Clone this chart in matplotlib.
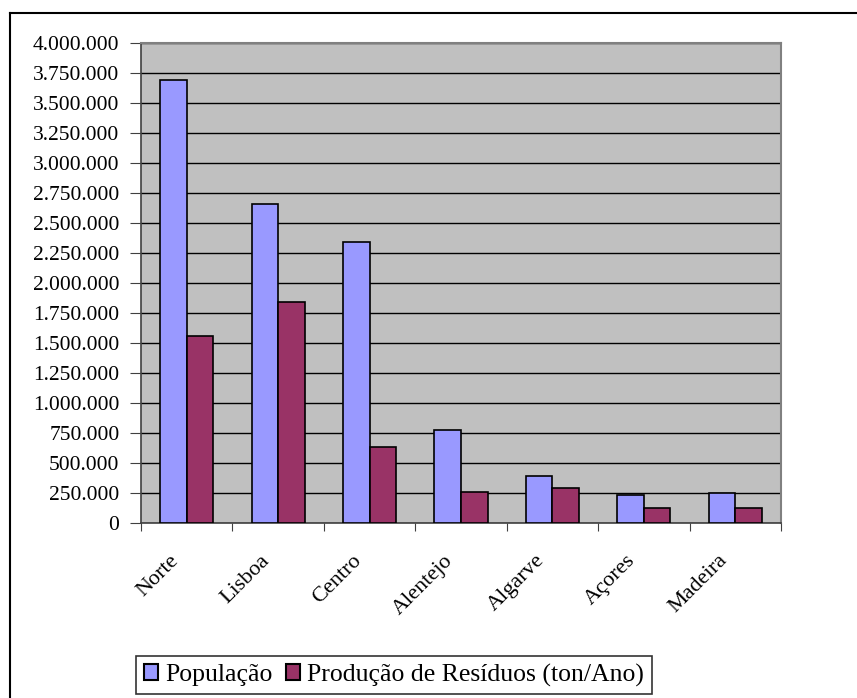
import matplotlib.pyplot as plt
from matplotlib.ticker import FuncFormatter, FixedLocator
from matplotlib.lines import Line2D
import numpy as np

regioes = ['Norte', 'Lisboa', 'Centro', 'Alentejo', 'Algarve', 'Açores', 'Madeira']
populacao = [3690000, 2656000, 2344000, 775000, 389000, 233000, 247000]
residuos = [1560000, 1842000, 636000, 261000, 294000, 125000, 122000]

plt.rcParams['font.family'] = ['Liberation Serif', 'DejaVu Serif']

W, H = 857, 698
fig = plt.figure(figsize=(W / 100, H / 100), dpi=100)

# area do grafico em pixels
x0, x1, y0, y1 = 141, 781, 43, 523
ax = fig.add_axes([x0 / W, 1 - y1 / H, (x1 - x0) / W, (y1 - y0) / H])
ax.set_facecolor('#C0C0C0')

x = np.arange(len(regioes))
w = 0.29
ax.bar(x - w / 2, populacao, w, color='#9999FF', edgecolor='black', linewidth=1.2,
       label='População', zorder=3)
ax.bar(x + w / 2, residuos, w, color='#993366', edgecolor='black', linewidth=1.2,
       label='Produção de Resíduos (ton/Ano)', zorder=3)

ax.set_xlim(-0.5, len(regioes) - 0.5)
ax.set_ylim(0, 4000000)
ax.yaxis.set_major_locator(FixedLocator(np.arange(0, 4000001, 250000)))
ax.yaxis.set_major_formatter(FuncFormatter(lambda v, p: '{:,}'.format(int(v)).replace(',', '.')))
ax.grid(axis='y', color='black', linewidth=1, zorder=1)

# ticks do eixo x entre categorias
ax.xaxis.set_major_locator(FixedLocator(np.arange(-0.5, len(regioes), 1)))
ax.set_xticklabels([])
ax.tick_params(axis='x', length=6, color='#404040', direction='out')
ax.tick_params(axis='y', length=8, color='#404040', direction='out', labelsize=15.5, pad=7.5)

for i, r in enumerate(regioes):
    ax.annotate(r, xy=(i, 0), xycoords=('data', 'axes fraction'), xytext=(-8, -25),
                textcoords='offset points', rotation=45, ha='right', va='center',
                rotation_mode='anchor', fontsize=16)

for s in ['top', 'right']:
    ax.spines[s].set_color('#808080')
    ax.spines[s].set_linewidth(1.5)
for s in ['left', 'bottom']:
    ax.spines[s].set_color('#404040')
    ax.spines[s].set_linewidth(1.2)

leg = fig.legend(loc='center', bbox_to_anchor=(394 / W, 1 - 675 / H), ncol=2,
                 fontsize=18.5, frameon=True, fancybox=False, edgecolor='black',
                 handlelength=0.55, handleheight=0.55, handletextpad=0.28,
                 columnspacing=0.5, borderpad=0.3, borderaxespad=0)
leg.get_frame().set_linewidth(1.2)
for p in leg.get_patches():
    p.set_linewidth(1.5)

# moldura exterior
fig.add_artist(Line2D([10 / W, 1], [1 - 13 / H, 1 - 13 / H], color='black', linewidth=1.5))
fig.add_artist(Line2D([10 / W, 10 / W], [0, 1 - 13 / H], color='black', linewidth=1.5))

fig.savefig('out.png', dpi=100)
